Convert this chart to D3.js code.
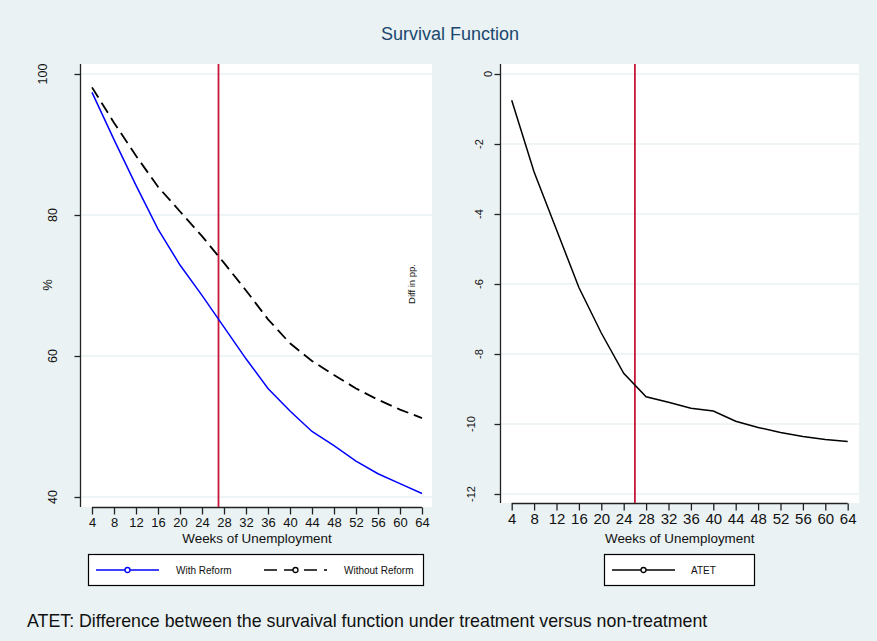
<!DOCTYPE html>
<html>
<head>
<meta charset="utf-8">
<script src="https://cdn.jsdelivr.net/npm/d3@7"></script>
<style>
  body { margin: 0; background: #eaf2f3; }
  text { font-family: "Liberation Sans", Arial, sans-serif; }
</style>
</head>
<body>
<div id="chart"></div>
<script>
// Data
var weeks = [4, 8, 12, 16, 20, 24, 28, 32, 36, 40, 44, 48, 52, 56, 60, 64];
var withReform = [97.4, 90.7, 84.2, 78.0, 72.9, 68.6, 64.1, 59.6, 55.4, 52.2, 49.3, 47.3, 45.1, 43.3, 41.9, 40.5];
var withoutReform = [98.1, 93.1, 88.4, 84.0, 80.5, 77.0, 73.2, 69.3, 65.2, 61.8, 59.3, 57.3, 55.4, 53.8, 52.4, 51.2];
var atet = [-0.75, -2.8, -4.45, -6.1, -7.4, -8.55, -9.22, -9.38, -9.55, -9.63, -9.92, -10.1, -10.24, -10.36, -10.44, -10.5];
var leftYTicks = [40, 60, 80, 100];
var rightYTicks = [-12, -10, -8, -6, -4, -2, 0];
var leftCutoff = 27;
var rightCutoff = 26;

var svgWidth = 877;
var svgHeight = 641;

var svg = d3.select("#chart")
  .append("svg")
  .attr("width", svgWidth)
  .attr("height", svgHeight);

svg.append("rect")
  .attr("width", svgWidth)
  .attr("height", svgHeight)
  .attr("fill", "#eaf2f3");

svg.append("text")
  .attr("x", 450)
  .attr("y", 40)
  .attr("text-anchor", "middle")
  .attr("font-size", "18px")
  .attr("fill", "#1a476f")
  .text("Survival Function");

// draws one panel, returns its scales
function drawPanel(p) {
  var g = svg.append("g");

  var x = d3.scaleLinear().domain([4, 64]).range([p.x0, p.x1]);
  var y = d3.scaleLinear().domain(p.yDomain).range([p.yBottom, p.yTop]);

  // plot region
  g.append("rect")
    .attr("x", p.left)
    .attr("y", p.top)
    .attr("width", p.right - p.left)
    .attr("height", p.bottom - p.top)
    .attr("fill", "white");

  // grid
  g.selectAll(".grid")
    .data(p.yTicks)
    .enter()
    .append("line")
    .attr("x1", p.left)
    .attr("x2", p.right)
    .attr("y1", d => y(d))
    .attr("y2", d => y(d))
    .attr("stroke", "#eaf2f3")
    .attr("stroke-width", 1.5);

  // y axis
  var leftAxis = d3.axisLeft(y).tickValues(p.yTicks).tickSize(6).tickFormat("");
  var ya = g.append("g")
    .attr("transform", `translate(${p.left - 0.5}, 0)`)
    .call(leftAxis);
  ya.select(".domain").attr("d", `M0,${p.top}V${p.bottom}`);
  ya.selectAll("path, line").attr("stroke", "#222").attr("stroke-width", 1.3);

  g.selectAll(".ylab")
    .data(p.yTicks)
    .enter()
    .append("text")
    .attr("transform", d => `translate(${p.left - p.labBase - p.labStep * String(d).length}, ${y(d)}) rotate(-90)`)
    .attr("dy", "0.35em")
    .attr("text-anchor", "middle")
    .attr("font-size", p.yFont)
    .attr("fill", "#111")
    .text(d => d);

  // x axis
  var bottomAxis = d3.axisBottom(x).tickValues(weeks).tickSize(7).tickPadding(3);
  var xa = g.append("g")
    .attr("transform", `translate(0, ${p.bottom + 0.5})`)
    .call(bottomAxis);
  xa.select(".domain").attr("d", `M${p.x0},0H${p.x1}`);
  xa.selectAll("path, line").attr("stroke", "#222").attr("stroke-width", 1.3);
  xa.selectAll("text")
    .attr("font-size", p.xFont)
    .attr("font-family", "Liberation Sans, Arial, sans-serif")
    .attr("fill", "#111");

  g.append("text")
    .attr("x", (p.x0 + p.x1) / 2)
    .attr("y", 543)
    .attr("text-anchor", "middle")
    .attr("font-size", "13.4px")
    .attr("fill", "#111")
    .text("Weeks of Unemployment");

  // cutoff line
  g.append("line")
    .attr("x1", x(p.cutoff))
    .attr("x2", x(p.cutoff))
    .attr("y1", p.top)
    .attr("y2", p.bottom)
    .attr("stroke", "#c8173a")
    .attr("stroke-width", 1.8);

  return { x: x, y: y, g: g };
}

var left = drawPanel({
  left: 81, right: 432, top: 64, bottom: 507,
  x0: 92, x1: 422, yTop: 74, yBottom: 497,
  yDomain: [40, 100], yTicks: leftYTicks,
  labBase: 7, labStep: 10.5, yFont: "12.5px", xFont: "13px",
  cutoff: leftCutoff
});

var right = drawPanel({
  left: 501, right: 859, top: 64, bottom: 503,
  x0: 511.7, x1: 847.7, yTop: 74, yBottom: 494,
  yDomain: [-12, 0], yTicks: rightYTicks,
  labBase: 4.7, labStep: 8.5, yFont: "11px", xFont: "15px",
  cutoff: rightCutoff
});

// curves
var leftLine = d3.line()
  .x((d, i) => left.x(weeks[i]))
  .y(d => left.y(d));

left.g.append("path")
  .datum(withoutReform)
  .attr("d", leftLine)
  .attr("fill", "none")
  .attr("stroke", "black")
  .attr("stroke-width", 1.8)
  .attr("stroke-dasharray", "12,6");

left.g.append("path")
  .datum(withReform)
  .attr("d", leftLine)
  .attr("fill", "none")
  .attr("stroke", "blue")
  .attr("stroke-width", 1.5);

var rightLine = d3.line()
  .x((d, i) => right.x(weeks[i]))
  .y(d => right.y(d));

right.g.append("path")
  .datum(atet)
  .attr("d", rightLine)
  .attr("fill", "none")
  .attr("stroke", "black")
  .attr("stroke-width", 1.5);

// y axis titles
svg.append("text")
  .attr("transform", "translate(47, 285) rotate(-90)")
  .attr("dy", "0.35em")
  .attr("text-anchor", "middle")
  .attr("font-size", "13px")
  .attr("fill", "#111")
  .text("%");

svg.append("text")
  .attr("transform", "translate(412, 284) rotate(-90)")
  .attr("dy", "0.35em")
  .attr("text-anchor", "middle")
  .attr("font-size", "9.5px")
  .attr("fill", "#111")
  .text("Diff in pp.");

// legends
function legendItem(g, x1, x2, color, dash, label, tx) {
  g.append("line")
    .attr("x1", x1).attr("x2", x2)
    .attr("y1", 570).attr("y2", 570)
    .attr("stroke", color)
    .attr("stroke-width", 1.6)
    .attr("stroke-dasharray", dash);
  g.append("circle")
    .attr("cx", (x1 + x2) / 2)
    .attr("cy", 570)
    .attr("r", 2.5)
    .attr("fill", "white")
    .attr("stroke", color)
    .attr("stroke-width", 1.3);
  g.append("text")
    .attr("x", tx)
    .attr("y", 573.5)
    .attr("font-size", "10px")
    .attr("fill", "#111")
    .text(label);
}

var legL = svg.append("g");
legL.append("rect")
  .attr("x", 88.5).attr("y", 554.5)
  .attr("width", 335).attr("height", 31)
  .attr("fill", "white").attr("stroke", "black").attr("stroke-width", 1.2);
legendItem(legL, 96, 159, "blue", null, "With Reform", 176);
legendItem(legL, 264, 327, "black", "13,7", "Without Reform", 344);

var legR = svg.append("g");
legR.append("rect")
  .attr("x", 604.5).attr("y", 554.5)
  .attr("width", 150).attr("height", 31)
  .attr("fill", "white").attr("stroke", "black").attr("stroke-width", 1.2);
legendItem(legR, 612, 675, "black", null, "ATET", 691);

// note
svg.append("text")
  .attr("x", 27)
  .attr("y", 627)
  .attr("font-size", "17.8px")
  .attr("fill", "#111")
  .text("ATET: Difference between the survaival function under treatment versus non-treatment");
</script>
</body>
</html>
